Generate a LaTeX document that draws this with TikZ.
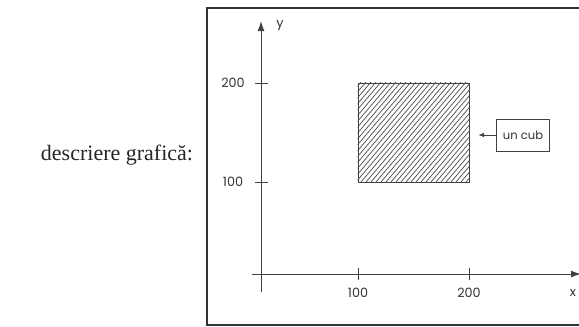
\documentclass[tikz,border=0pt]{standalone}
\usepackage{fontspec}
\setmainfont{Liberation Serif}
\newfontfamily\axisfont{Poppins}
\usetikzlibrary{arrows.meta, positioning}
\tikzset{
    frame_line/.style={
        draw=black!80, line width=1pt
    },
    axis_arrow/.style={
        -{Latex[length=5pt, width=3.4pt]}, draw=black!75, line width=0.5pt
    },
    tick_line/.style={
        draw=black!75, line width=0.45pt
    },
    hatch_line/.style={
        draw=black!70, line width=0.35pt
    },
    tick_lbl/.style={
        font=\axisfont\fontsize{6.4}{7}\selectfont, text=black!80, inner sep=1pt
    },
    note_box/.style={
        rectangle, draw=black!75, line width=0.5pt,
        minimum width=25pt, minimum height=16pt,
        font=\axisfont\fontsize{5.8}{7}\selectfont, text=black!80
    },
    note_arrow/.style={
        -{Latex[length=3pt, width=2.2pt]}, draw=black!75, line width=0.5pt
    }
}
\begin{document}
\begin{tikzpicture}[x=0.5pt, y=-0.5pt]
    \useasboundingbox (0,0) rectangle (579,327);
    \clip (0,0) rectangle (579,327);

    % Caption
    \node[font=\fontsize{11}{13}\selectfont, text=black!85] (caption) at (117,155) {descriere grafică:};

    % Frame
    \draw[frame_line] (590,8) -- (207,8) -- (207,325) -- (590,325);

    % Axes
    \coordinate (y_lo) at (261,292);
    \coordinate (y_hi) at (261,21);
    \coordinate (x_lo) at (252,274);
    \coordinate (x_hi) at (581,274);
    \draw[axis_arrow] (y_lo) -- (y_hi);
    \draw[axis_arrow] (x_lo) -- (x_hi);
    \node[tick_lbl] (y_name) at (280,26) {y};
    \node[tick_lbl] (x_name) at (573,293) {x};

    % Ticks
    \foreach \ty/\tl in {83/200, 182/100} {
        \draw[tick_line] (255,\ty) -- (268,\ty);
        \node[tick_lbl] (ylbl\tl) at (233,\ty) {\tl};
    }
    \foreach \tx/\tl in {358/100, 469/200} {
        \draw[tick_line] (\tx,268) -- (\tx,280);
        \node[tick_lbl] (xlbl\tl) at (\tx,293) {\tl};
    }

    % Hatched square
    \node[draw=black!75, line width=0.5pt, minimum width=55.5pt, minimum height=49.5pt, inner sep=0pt] (cube) at (413.5,132.5) {};
    \begin{scope}
        \clip (cube.south west) rectangle (cube.north east);
        \foreach \hx in {276,281,...,470} {
            \draw[hatch_line] (\hx,182) -- ++(85,-100);
        }
    \end{scope}

    % Label
    \node[note_box] (note) at (523,135) {un cub};
    \coordinate (note_tip) at (478,135);
    \draw[note_arrow] (note.west) -- (note_tip);
\end{tikzpicture}
\end{document}
